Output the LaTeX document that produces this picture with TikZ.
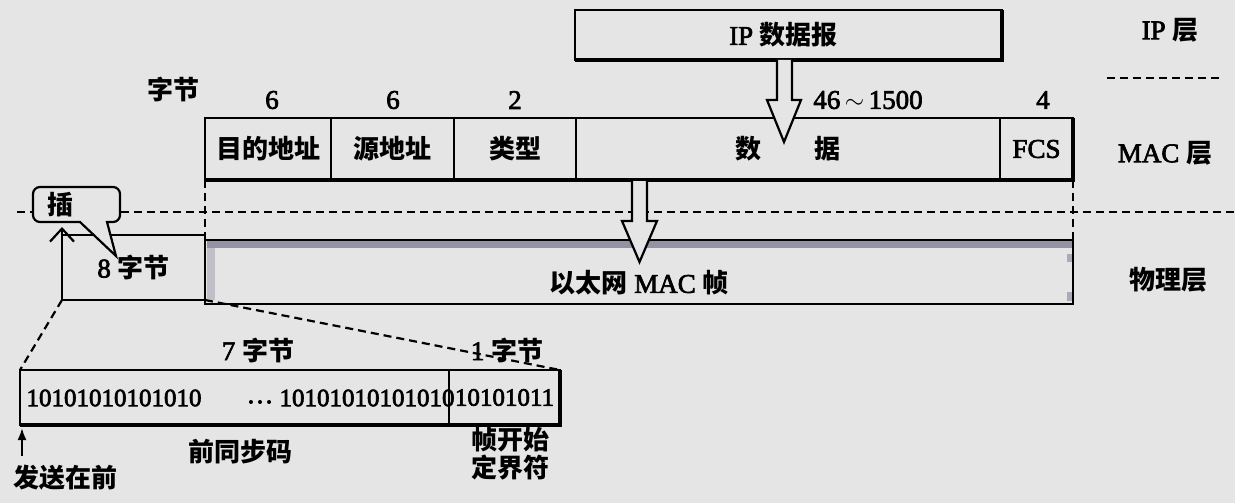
\documentclass[tikz,border=0pt]{standalone}
\usepackage{fontspec}
\setmainfont{Liberation Serif}
\newfontfamily\latinfont{Liberation Serif}[FakeBold=2.5]
\newfontfamily\cjkfont{Noto Sans CJK SC}
\newcommand{\zh}[1]{{\cjkfont\bfseries\fontsize{26}{28}\selectfont #1}}
\usetikzlibrary{arrows.meta}
\definecolor{paper}{RGB}{229,229,229}
\definecolor{band}{RGB}{150,146,166}

\begin{document}
\begin{tikzpicture}[x=1pt,y=-1pt,
  every node/.style={inner sep=0pt, outer sep=0pt, font=\latinfont\fontsize{27}{28}\selectfont},
  bitsfont/.style={font=\latinfont\fontsize{25}{28}\selectfont},
  boxline/.style={line width=2.2pt},
  field/.style={draw, boxline, minimum height=62pt, anchor=north west},
  dashline/.style={line width=2.2pt, dash pattern=on 8pt off 5pt},
  hollow/.style={boxline, fill=paper, line join=miter},
  shadowline/.style={line width=4.5pt},
]
% page
\useasboundingbox (0,0) rectangle (1235,503);
\fill[paper] (0,0) rectangle (1235,503);

% IP layer
\node[draw, boxline, minimum width=427pt, minimum height=50pt, anchor=north west]
  (ip) at (575,10) {};
\draw[shadowline] (ip.south west) -- (ip.south east) -- (ip.north east);
\node (iptxt) at ([xshift=-5pt]ip.center) {IP \zh{数据报}};

% MAC frame fields
\node[field, minimum width=126pt] (dst) at (205,118) {\zh{目的地址}};
\node[field, minimum width=123pt] (src) at (331,118) {\zh{源地址}};
\node[field, minimum width=122pt] (typ) at (454,118) {\zh{类型}};
\node[field, minimum width=424pt] (dat) at (576,118) {\zh{数\hspace{54pt}据}};
\node[field, minimum width=73pt] (fcs) at (1000,118) {FCS};
\draw[shadowline] (dst.south west) -- (fcs.south east) -- (fcs.north east);

% field sizes
\node (unit) at (173,89) {\zh{字节}};
\node (n1) at (272,100) {6};
\node (n2) at (393,100) {6};
\node (n3) at (515,100) {2};
\node (n4) at (868,100) {46\,$\sim$\,1500};
\node (n5) at (1043,100) {4};

% layer names
\node (lip) at (1170,30) {IP \zh{层}};
\draw[dashline] (1107,78) -- (1220,78);
\node (lmac) at (1165,153) {MAC \zh{层}};
\node (lphy) at (1168,280) {\zh{物理层}};

% MAC / physical boundary
\draw[dashline] (17,212) -- (1235,212);

% physical layer frame
\node[draw, boxline, minimum width=868pt, minimum height=64pt, anchor=north west]
  (frame) at (205,240) {};
\fill[band] (207,241) rectangle (1072,248);
\fill[band, opacity=0.45] (207,248) rectangle (215,300);
\fill[band, opacity=0.7] (1067,254) rectangle (1072,262);
\fill[band, opacity=0.7] (1067,292) rectangle (1072,301);
\draw[boxline] (frame.north west) rectangle (frame.south east);
\node (ftxt) at ([yshift=-11pt]frame.center) {\zh{以太网} MAC \zh{帧}};

\draw[dashline] (dst.south west) -- (frame.north west);
\draw[dashline] (fcs.south east) -- (frame.north east);

% preamble block
\node[draw, boxline, minimum width=143pt, minimum height=65pt, anchor=north west]
  (pre) at (62,235) {8 \zh{字节}};
\coordinate (instip) at (62,227);
\draw[boxline, -{Straight Barb[length=13pt,width=24pt,line width=2.2pt]}]
  (pre.south west) -- (instip);

% callout
\draw[boxline, fill=paper] (80,222) [rounded corners=7pt] -- (33,222) -- (33,187)
  -- (120,187) -- (120,222) [sharp corners] -- (107,222) -- (116,256) -- cycle;
\node (ins) at (60,205) {\zh{插}};

% hollow arrows
\draw[hollow] (ip.south) ++(-11.5,0) -- ++(0,40) -- ++(-10,0) -- ++(17,42)
  -- ++(17,-42) -- ++(-9,0) -- ++(0,-40);
\draw[hollow] (632,181) -- (632,221) -- (622,221) -- (639.5,262)
  -- (657,221) -- (647,221) -- (647,181);

% preamble detail
\node[draw, boxline, minimum width=429pt, minimum height=55pt, anchor=north west]
  (bits) at (20,370) {};
\node[draw, boxline, minimum width=111pt, minimum height=55pt, anchor=north west, bitsfont]
  (sfd) at (449,370) {10101011};
\draw[shadowline] (bits.south west) -- (sfd.south east) -- (sfd.north east);
\node[bitsfont] (b1) at (114,398) {10101010101010};
\node (dots) at (260,402) {\dots};
\node[bitsfont] (b2) at (367,398) {10101010101010};

\draw[dashline] (pre.south west) -- (bits.north west);
\draw[dashline] (pre.south east) -- (sfd.north east);

\node (l7) at (258,350) {7 \zh{字节}};
\node (l1) at (507,350) {1 \zh{字节}};

\node (pname) at (240,452) {\zh{前同步码}};
\node[align=center] (sname) at (510,454) {\zh{帧开始}\\\zh{定界符}};
\node (send) at (65,478) {\zh{发送在前}};
\coordinate (sendtail) at (22,456);
\draw[line width=2pt, -{Latex[length=12pt,width=9pt]}] (sendtail) -- ([xshift=2pt,yshift=-3pt]bits.south west);
\end{tikzpicture}
\end{document}
